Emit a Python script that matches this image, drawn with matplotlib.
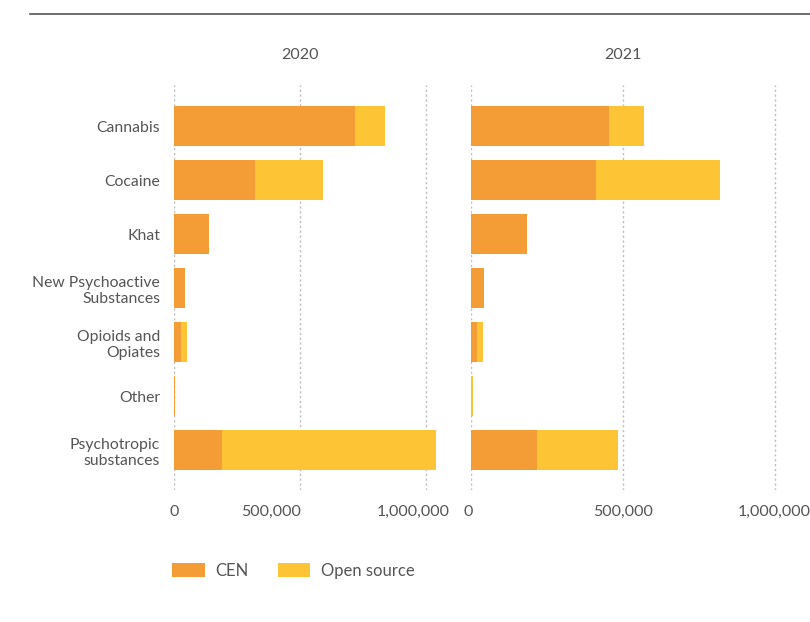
import matplotlib
matplotlib.use("Agg")
import matplotlib.pyplot as plt
from matplotlib.patches import Patch
from matplotlib.transforms import ScaledTranslation
import numpy as np

plt.rcParams['font.family'] = ['Lato', 'DejaVu Sans']

categories = ["Cannabis", "Cocaine", "Khat", "New Psychoactive\nSubstances",
              "Opioids and\nOpiates", "Other", "Psychotropic\nsubstances"]
years = ["2020", "2021"]
cen_2020 = [718000, 321000, 139000, 44000, 28000, 2000, 190000]
open_2020 = [119000, 270000, 0, 0, 22000, 2000, 850000]
cen_2021 = [454000, 411000, 184000, 43000, 20000, 1000, 217000]
open_2021 = [115000, 408000, 0, 0, 19000, 4000, 267000]
xticks = [0, 500000, 1000000]
xtick_labels = ["0", "500,000", "1,000,000"]

CEN_COLOR = "#F49D37"
OPEN_COLOR = "#FDC536"
TEXT = "#555555"

fig = plt.figure(figsize=(8.1, 6.22), dpi=100)
ax1 = fig.add_axes([174/810, 1-490/622, 265/810, 405/622])
ax2 = fig.add_axes([471/810, 1-490/622, 340/810, 405/622])

# top rule
fig.add_artist(plt.Line2D([30/810, 1.0], [1-14/622, 1-14/622], color="#555555", lw=1.2))

data = [(ax1, cen_2020, open_2020, 1.05e6), (ax2, cen_2021, open_2021, 1.12e6)]
y = np.arange(len(categories))
for i, (ax, cen, opn, xmax) in enumerate(data):
    ax.barh(y, cen, height=0.74, color=CEN_COLOR, zorder=2)
    ax.barh(y, opn, left=cen, height=0.74, color=OPEN_COLOR, zorder=2)
    ax.set_xlim(0, xmax)
    ax.set_ylim(6.74, -0.76)
    ax.set_xticks(xticks)
    ax.set_xticklabels(xtick_labels)
    for xt in xticks:
        ax.axvline(xt, color="#bbbbbb", lw=1.0, ls=(0, (1.5, 2)), zorder=1)
    for s in ax.spines.values():
        s.set_visible(False)
    ax.tick_params(axis='both', length=0, colors=TEXT, labelsize=11.5)
    ax.tick_params(axis='x', pad=11)
    ax.set_yticks(y)
    if i == 0:
        ax.set_yticklabels(categories, fontsize=11.3, color=TEXT, linespacing=1.2)
        ax.tick_params(axis='y', pad=10)
    else:
        ax.set_yticklabels([])
    ax.text(500000, -1.32, years[i], ha='center', va='center', fontsize=11.5, color=TEXT,
            transform=ax.transData)

# tick label offsets as in the reference (pixels)
def shift(lbl, dx):
    lbl.set_transform(lbl.get_transform() + ScaledTranslation(dx/100, 0, fig.dpi_scale_trans))

l1 = ax1.get_xticklabels()
shift(l1[1], -29)
shift(l1[2], -13)
shift(ax2.get_xticklabels()[0], -3)

handles = [Patch(facecolor=CEN_COLOR, label="CEN"), Patch(facecolor=OPEN_COLOR, label="Open source")]
fig.legend(handles=handles, loc='center left', bbox_to_anchor=(172/810, 1-571/622), ncol=2,
           frameon=False, fontsize=12, labelcolor=TEXT, handlelength=1.97, handleheight=0.95,
           columnspacing=1.75, handletextpad=0.62, borderpad=0, borderaxespad=0)

fig.savefig("out.png", dpi=100)
